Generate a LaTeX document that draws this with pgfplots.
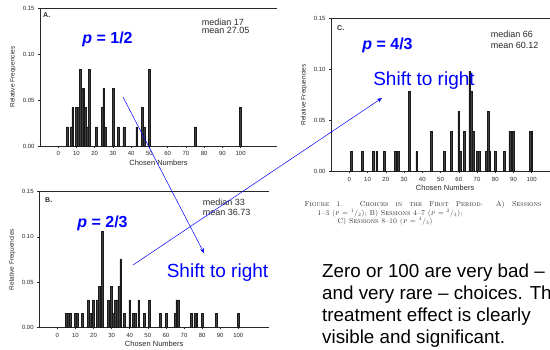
\documentclass[border=0pt]{standalone}
\usepackage{fontspec}
\usepackage{pgfplots}
\pgfplotsset{compat=1.18}
\usetikzlibrary{arrows.meta}
\newfontfamily\lsans{Liberation Sans}[Ligatures=TeX]
\definecolor{annblue}{RGB}{0,0,255}
\definecolor{scan}{RGB}{40,40,40}

\pgfplotsset{
  panel/.style={
    scale only axis, xmin=-10, ymin=0, ymax=0.15,
    axis x line*=bottom, axis y line*=left,
    axis line style={-, scan, line width=0.6pt},
    xtick={0,10,...,100}, ytick={0,0.05,0.1,0.15},
    yticklabel style={/pgf/number format/.cd, fixed, fixed zerofill, precision=2},
    /pgf/number format/assume math mode=true,
    tick label style={font=\fontsize{6}{7}\selectfont\lsans, text=scan},
    xlabel={Chosen Numbers}, ylabel={Relative Frequencies},
    xlabel style={font=\fontsize{7.5}{8}\selectfont\lsans, text=scan, yshift=3pt},
    ylabel style={font=\fontsize{6.5}{7}\selectfont\lsans, text=scan},
    tick align=outside, major tick length=2pt, tick style={scan, line width=0.5pt},
    after end axis/.code={\draw[scan, line width=0.6pt] (rel axis cs:0,1) -- (rel axis cs:1,1);},
  },
  bars/.style={ybar, bar width=1, fill=black!75, draw=black!90, line width=0.5pt},
}

\begin{document}
\begin{tikzpicture}
\useasboundingbox (0pt,0pt) rectangle (550pt,349pt);

% Panel A
\begin{axis}[panel, at={(40pt,203pt)}, anchor=south west, width=237.1pt, height=137.7pt, xmax=120]
\addplot[bars] coordinates {(5,0.0208)(7,0.0208)(8,0.0417)(10,0.0417)(11,0.0417)(12,0.0833)(13,0.0625)(14,0.0625)(15,0.0417)(16,0.0208)(17,0.0833)(21,0.0208)(24,0.0417)(25,0.0625)(26,0.0208)(30,0.0625)(33,0.0208)(36,0.0208)(43,0.0208)(46,0.0417)(47,0.0208)(50,0.0833)(75,0.0208)(100,0.0417)};
\end{axis}

% Panel B
\begin{axis}[panel, at={(39.2pt,21.7pt)}, anchor=south west, width=229.9pt, height=135.6pt, xmax=117]
\addplot[bars] coordinates {(5,0.0152)(6,0.0152)(7,0.0152)(10,0.0152)(11,0.0152)(14,0.0152)(17,0.0303)(18,0.0152)(20,0.0303)(22,0.0303)(23,0.0455)(24,0.0303)(25,0.1061)(28,0.0303)(30,0.0455)(31,0.0152)(32,0.0303)(33,0.0303)(34,0.0455)(35,0.0758)(37,0.0152)(40,0.0303)(42,0.0152)(43,0.0152)(45,0.0303)(48,0.0152)(51,0.0303)(57,0.0152)(60,0.0152)(65,0.0152)(66,0.0303)(67,0.0303)(74,0.0152)(76,0.0152)(77,0.0152)(80,0.0152)(88,0.0152)(100,0.0152)};
\end{axis}

% Panel C
\begin{axis}[panel, at={(331.1pt,177.7pt)}, anchor=south west, width=228pt, height=153pt, xmax=115]
\addplot[bars] coordinates {(1,0.0196)(7,0.0196)(13,0.0196)(15,0.0196)(19,0.0196)(25,0.0196)(27,0.0196)(33,0.0784)(37,0.0196)(45,0.0392)(52,0.0196)(56,0.0392)(60,0.0588)(61,0.0196)(63,0.0392)(66,0.0980)(67,0.0784)(68,0.0392)(70,0.0196)(71,0.0196)(75,0.0196)(76,0.0588)(77,0.0196)(80,0.0196)(85,0.0196)(88,0.0392)(90,0.0392)(99,0.0392)(100,0.0392)};
\end{axis}

% panel letters and statistics
\begin{scope}[every node/.style={inner sep=0pt, text=scan}]
\node[anchor=west, font=\fontsize{7}{8}\selectfont\lsans\bfseries] at (43pt,334pt) {A.};
\node[anchor=west, font=\fontsize{7}{8}\selectfont\lsans\bfseries] at (45pt,149pt) {B.};
\node[anchor=west, font=\fontsize{7}{8}\selectfont\lsans\bfseries] at (337pt,321pt) {C.};
\node[anchor=west, font=\fontsize{9}{10}\selectfont\lsans] at (201.7pt,327pt) {median 17};
\node[anchor=west, font=\fontsize{9}{10}\selectfont\lsans] at (201.7pt,319pt) {mean 27.05};
\node[anchor=west, font=\fontsize{9}{10}\selectfont\lsans] at (202.7pt,146.7pt) {median 33};
\node[anchor=west, font=\fontsize{9}{10}\selectfont\lsans] at (202.7pt,136.7pt) {mean 36.73};
\node[anchor=west, font=\fontsize{9}{10}\selectfont\lsans] at (490.7pt,314.7pt) {median 66};
\node[anchor=west, font=\fontsize{9}{10}\selectfont\lsans] at (490.7pt,303.3pt) {mean 60.12};
\end{scope}

% caption
\begin{scope}[every node/.style={inner sep=0pt, text=scan, font=\fontsize{7.2}{8}\selectfont\scshape}]
\node at (423pt,144pt) {\makebox[237pt][s]{Figure 1. Choices in the First Period: A) Sessions}};
\node at (390pt,136pt) {1–3 (\textit{p} = \textsuperscript{1}/\textsubscript{2}); B) Sessions 4–7 (\textit{p} = \textsuperscript{2}/\textsubscript{3});};
\node at (385pt,128pt) {C) Sessions 8–10 (\textit{p} = \textsuperscript{4}/\textsubscript{3})};
\end{scope}

% blue annotations
\begin{scope}[every node/.style={inner sep=0pt, text=annblue}]
\node[anchor=base, font=\fontsize{16}{18}\selectfont\lsans\bfseries] at (107.5pt,305pt) {\textit{p} = 1/2};
\node[anchor=base, font=\fontsize{16}{18}\selectfont\lsans\bfseries] at (102.5pt,121.7pt) {\textit{p} = 2/3};
\node[anchor=base, font=\fontsize{16}{18}\selectfont\lsans\bfseries] at (387.5pt,299.7pt) {\textit{p} = 4/3};
\node[anchor=base, font=\fontsize{19}{21}\selectfont\lsans] at (424pt,263pt) {Shift to right};
\node[anchor=base, font=\fontsize{19}{21}\selectfont\lsans] at (217.5pt,71.7pt) {Shift to right};
\end{scope}
\draw[annblue, line width=0.5pt, -{Stealth[length=5pt,width=4pt]}] (123pt,252pt) -- (204pt,96pt);
\draw[annblue, line width=0.5pt, -{Stealth[length=5pt,width=4pt]}] (133pt,84pt) -- (382pt,251pt);

% body text
\begin{scope}[every node/.style={anchor=base west, inner sep=0pt, font=\fontsize{18.8}{22}\selectfont\lsans}]
\node at (322pt,71.7pt) {Zero or 100 are very bad –};
\node at (322pt,49.7pt) {and very rare – choices. The};
\node at (322pt,27.7pt) {treatment effect is clearly};
\node at (322pt,5.7pt) {visible and significant.};
\end{scope}
\end{tikzpicture}
\end{document}
